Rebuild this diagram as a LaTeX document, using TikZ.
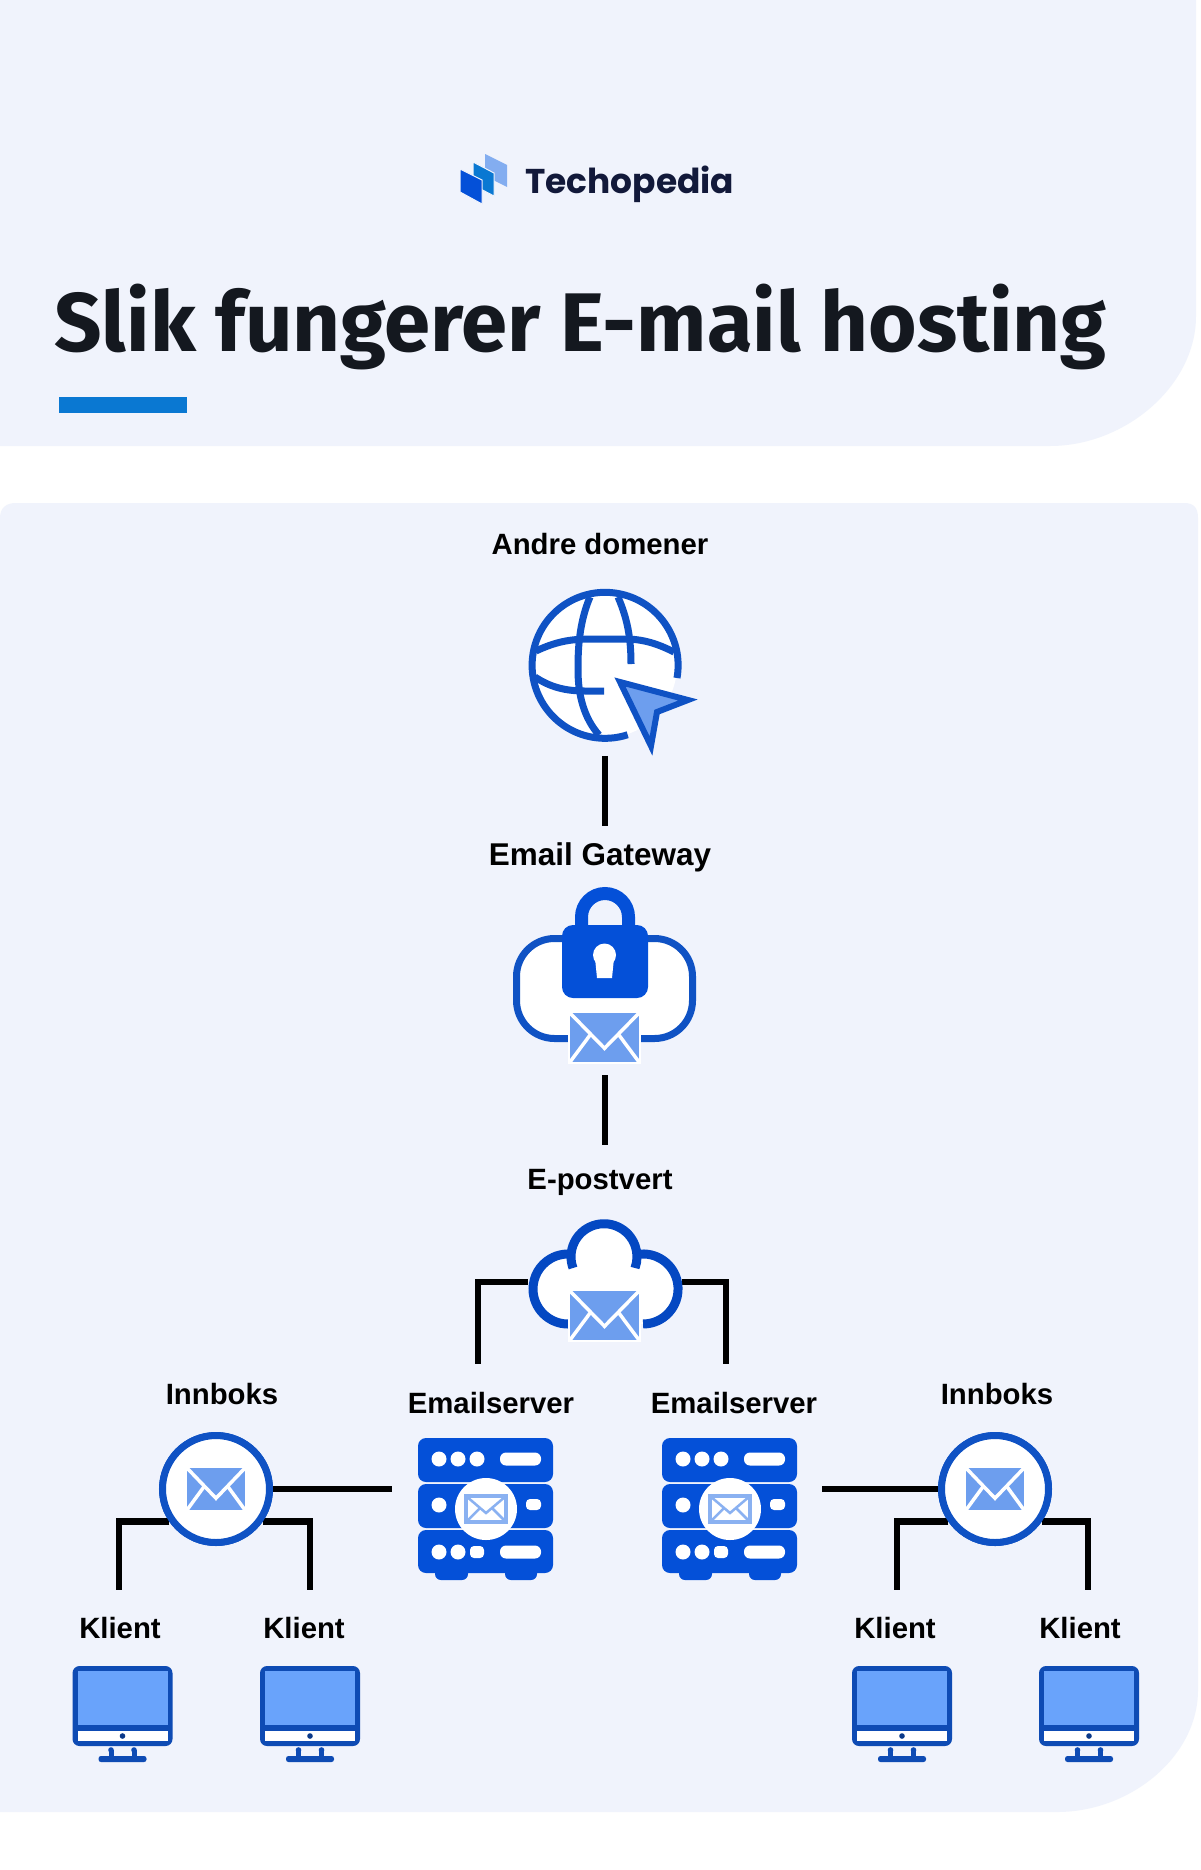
\documentclass[tikz,border=0pt]{standalone}
\usepackage{fontspec}
\setmainfont{Liberation Sans}
\newfontfamily\titlefont{Fira Sans}
\newfontfamily\logofont{Poppins}
\definecolor{panel}{HTML}{F0F3FC}
\definecolor{bluedark}{HTML}{0F52C4}
\definecolor{blueicon}{HTML}{0450D8}
\definecolor{bluelight}{HTML}{6D9EEE}
\definecolor{bluescreen}{HTML}{69A3FB}
\definecolor{bluebar}{HTML}{0A78D2}
\definecolor{inktext}{HTML}{14181F}
\definecolor{logotext}{HTML}{12193A}
\def\px{0.75pt}
\tikzset{
  lab/.style={font=\fontsize{22}{26}\selectfont\bfseries,text=black,inner sep=0pt,minimum height=#1*\px},
  lab/.default=40,
  conn/.style={draw=black,line width=6.5*\px,line join=miter},
  stroke/.style={draw=bluedark,line width=7*\px},
  cloudline/.style={draw=blueicon!90!black,line width=9*\px},
  inboxcircle/.style={circle,draw=bluedark,fill=white,line width=7*\px,minimum size=107*\px,inner sep=0pt,outer sep=3.5*\px},
}
% envelope: centre, width, height, white line width
\newcommand{\mailicon}[5][bluelight]{%
  \begin{scope}[shift={(#2)}]
    \fill[#1] (-#3/2,-#4/2) rectangle (#3/2,#4/2);
    \draw[white,line width=#5*\px,line join=miter]
      (-#3/2,-#4/2) -- (0,0.22*#4) -- (#3/2,-#4/2);
    \draw[white,line width=#5*\px]
      (-#3/2,#4/2) -- (-0.2*#3,-0.068*#4) (#3/2,#4/2) -- (0.2*#3,-0.068*#4);
  \end{scope}}
\newcommand{\servericon}[1]{%
  \begin{scope}[shift={(#1)}]
    \fill[blueicon,rounded corners=6*\px] (-50,55) rectangle (-17,71);
    \fill[blueicon,rounded corners=6*\px] (20,55) rectangle (52,71);
    \fill[blueicon,rounded corners=8*\px] (-67,-71) rectangle (68,-27);
    \fill[blueicon,rounded corners=8*\px] (-67,-25) rectangle (68,19);
    \fill[blueicon,rounded corners=8*\px] (-67,21) rectangle (68,64);
    \fill[white] (-46,-50) circle[radius=7.5];
    \fill[white] (-27,-50) circle[radius=7.5];
    \fill[white] (-8,-50) circle[radius=7.5];
    \fill[white,rounded corners=6*\px] (15,-56.5) rectangle (56,-43.5);
    \fill[white] (-46,-4) circle[radius=7.5];
    \fill[white,rounded corners=4*\px] (41,-10) rectangle (56,1);
    \fill[white] (-46,43) circle[radius=7.5];
    \fill[white] (-27,43) circle[radius=7.5];
    \fill[white,rounded corners=4*\px] (-15,37) rectangle (-1,49);
    \fill[white,rounded corners=6*\px] (15,36.5) rectangle (56,49.5);
    \fill[white] (1,0) circle[radius=31];
    \draw[bluelight!80!white,line width=3.5*\px,fill=white,line join=miter]
      (-19,-13) rectangle (21,13);
    \draw[bluelight!80!white,line width=2.5*\px]
      (-19,-13) -- (1,4) -- (21,-13) (-19,13) -- (-5,-1) (21,13) -- (7,-1);
  \end{scope}}
\newcommand{\monitoricon}[1]{%
  \begin{scope}[shift={(#1)}]
    \fill[bluedark!92!black,rounded corners=7*\px] (-50,-45) rectangle (50,35);
    \fill[bluescreen] (-45,-40) rectangle (45,14);
    \fill[white] (-45,20) rectangle (45,30);
    \fill[bluedark!70!black] (0,25) circle[radius=2.8];
    \fill[bluedark!92!black] (-14,39) rectangle (-9,47);
    \fill[bluedark!92!black] (9,39) rectangle (14,47);
    \fill[bluedark!92!black,rounded corners=2.5*\px] (-24,45) rectangle (24,51);
    \fill[bluedark!92!black] (-11.5,39) circle[radius=2.8];
    \fill[bluedark!92!black] (11.5,39) circle[radius=2.8];
  \end{scope}}
\begin{document}
\begin{tikzpicture}[x=\px,y=-\px]
\useasboundingbox (0,0) rectangle (1200,1870);
\fill[white] (0,0) rectangle (1200,1870);
% panels
\fill[panel] (0,0) -- (1196,0) -- (1196,316)
  .. controls (1196,386) and (1125,446) .. (1050,446) -- (0,446) -- cycle;
\fill[panel] (0,518) .. controls (0,508) and (6,503) .. (16,503) -- (1184,503)
  .. controls (1194,503) and (1198,508) .. (1198,518) -- (1198,1690)
  .. controls (1198,1757) and (1130,1812) .. (1057,1812) -- (0,1812) -- cycle;
% logo
\fill[bluelight!85!white] (485,154) -- (507,165) -- (507,187) -- (485,176) -- cycle;
\fill[bluebar,draw=panel,line width=1*\px] (473,162) -- (494,173) -- (494,196) -- (473,185) -- cycle;
\fill[blueicon,draw=panel,line width=1*\px] (460,169) -- (482,180) -- (482,204) -- (460,192) -- cycle;
\node[anchor=base west,inner sep=0pt,text=logotext] (logo) at (525,193)
  {\logofont\fontsize{25.8}{30}\selectfont\bfseries Techopedia};
% title
\node[anchor=base west,inner sep=0pt,text=inktext] (title) at (54,351)
  {\titlefont\fontsize{62.4}{70}\selectfont\bfseries Slik fungerer E-mail hosting};
\fill[bluebar] (59,397) rectangle (187,413);
% invisible boxes and labels (positions for connectors)
\node[lab] (lglobe) at (600,544) {Andre domener};
\node[minimum width=172*\px,minimum height=165*\px,inner sep=0pt] (globe) at (605,673) {};
\node[lab=62,font=\fontsize{23.6}{26}\selectfont\bfseries] (lgate) at (600,857) {Email Gateway};
\node[minimum width=183*\px,minimum height=188*\px,inner sep=0pt] (gate) at (605,981) {};
\node[lab=74] (lhost) at (600,1182) {E-postvert};
\node[minimum width=153*\px,minimum height=96*\px,inner sep=0pt] (cloud) at (605,1282) {};
\node[lab=78] (lsrvL) at (491,1403) {Emailserver};
\node[lab=78] (lsrvR) at (734,1403) {Emailserver};
\node[minimum width=135*\px,minimum height=142*\px,inner sep=0pt] (srvL) at (485,1509) {};
\node[minimum width=135*\px,minimum height=142*\px,inner sep=0pt] (srvR) at (729,1509) {};
\node[lab] (linL) at (222,1394) {Innboks};
\node[lab] (linR) at (997,1394) {Innboks};
\node[inboxcircle] (inL) at (216,1489) {};
\node[inboxcircle] (inR) at (995,1489) {};
\node[lab=76] (k1) at (120,1628) {Klient};
\node[lab=76] (k2) at (304,1628) {Klient};
\node[lab=76] (k3) at (895,1628) {Klient};
\node[lab=76] (k4) at (1080,1628) {Klient};
% connectors
\draw[conn] (globe.south) -- (globe.south |- lgate.north);
\draw[conn] (gate.south) -- (gate.south |- lhost.north);
\draw[conn] (cloud.west) -| ([xshift=-13*\px]lsrvL.north);
\draw[conn] (cloud.east) -| ([xshift=-8*\px]lsrvR.north);
\draw[conn,shorten >=25*\px] (inL.east) -- (inL.east -| srvL.west);
\draw[conn,shorten >=25*\px] (inR.west) -- (inR.west -| srvR.east);
\draw[conn] (inL.215) -| ([xshift=-1*\px]k1.north);
\draw[conn] (inL.325) -| ([xshift=6*\px]k2.north);
\draw[conn] (inR.215) -| ([xshift=2*\px]k3.north);
\draw[conn] (inR.325) -| ([xshift=8*\px]k4.north);
\node[inboxcircle] at (inL) {};
\node[inboxcircle] at (inR) {};
\mailicon{216,1489}{58}{42}{3.5}
\mailicon{995,1489}{58}{42}{3.5}
% globe
\fill[white] (604,665) circle[radius=73];
\draw[stroke] (677,678) arc[start angle=10,end angle=-288,radius=73];
\draw[stroke] (590,597) .. controls (578,625) and (578,655) .. (578,670) .. controls (578,695) and (584,718) .. (599,735);
\draw[stroke] (618,597) .. controls (628,620) and (631,640) .. (631,664);
\draw[stroke] (536,651) .. controls (555,642) and (570,639) .. (590,639) -- (625,639) .. controls (645,639) and (660,645) .. (674,652);
\draw[stroke] (535,677) .. controls (550,687) and (565,691) .. (585,691) -- (604,691);
\draw[stroke,fill=bluelight,line join=miter,line width=6*\px] (620,682) -- (688,700) -- (657,712) -- (651,746) -- cycle;
% gateway
\draw[stroke,fill=white,rounded corners=38*\px] (516.5,938.5) rectangle (692.5,1038.5);
\draw[blueicon,line width=13*\px] (581.5,930) -- (581.5,917) arc[start angle=180,end angle=360,radius=23.5] -- (628.5,930);
\fill[blueicon,rounded corners=11*\px] (562,925) rectangle (648,998);
\fill[white] (604.5,955) circle[radius=11.5];
\fill[white] (595,958) -- (614,958) -- (612,978) -- (597,978) -- cycle;
\fill[white] (568,1011) rectangle (641,1064);
\mailicon{604.5,1037.5}{69}{49}{3.5}
% cloud
\fill[white] (568,1289) circle[radius=35];
\fill[white] (643,1289) circle[radius=35];
\fill[white] (604,1257) circle[radius=33];
\fill[white] (568,1262) rectangle (643,1324);
\draw[cloudline] (568,1324) arc[start angle=90,end angle=280,radius=35];
\draw[cloudline] (573,1268) arc[start angle=160,end angle=380,radius=33];
\draw[cloudline] (637,1254.5) arc[start angle=260,end angle=450,radius=35];
\fill[white] (568,1289) rectangle (641,1342);
\mailicon{604.5,1315.5}{69}{49}{3.5}
% servers
\servericon{485,1509}
\servericon{729,1509}
% monitors
\monitoricon{122.5,1711}
\monitoricon{310,1711}
\monitoricon{902,1711}
\monitoricon{1089,1711}
\end{tikzpicture}
\end{document}
